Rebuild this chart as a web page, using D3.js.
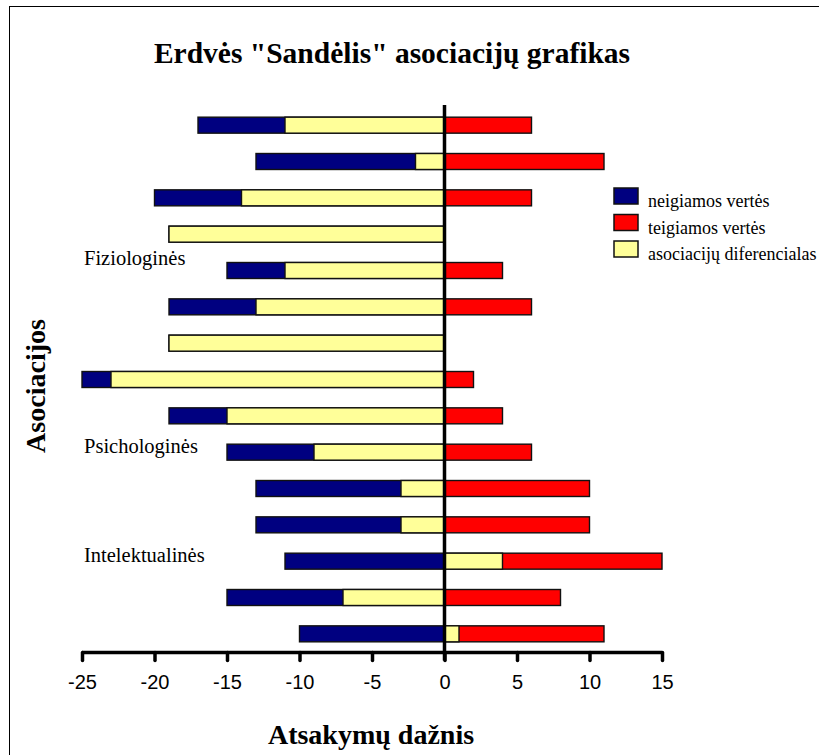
<!DOCTYPE html>
<html>
<head>
<meta charset="utf-8">
<script src="https://cdn.jsdelivr.net/npm/d3@7"></script>
<style>
  html, body { margin: 0; padding: 0; background: #fff; }
  svg { display: block; }
</style>
</head>
<body>
<svg id="chart" width="819" height="755"></svg>
<script>
// ---- data ----
const rows = ["1","2","3","4","5","6","7","8","9","10","11","12","13","14","15"];
const negativeValues = [-17, -13, -20, -19, -15, -19, -19, -25, -19, -15, -13, -13, -11, -15, -10];
const positiveValues = [6, 11, 6, 0, 4, 6, 0, 2, 4, 6, 10, 10, 15, 8, 11];
const differentialValues = [-11, -2, -14, -19, -11, -13, -19, -23, -15, -9, -3, -3, 4, -7, 1];
const xTicks = [-25, -20, -15, -10, -5, 0, 5, 10, 15];
const groupLabels = ["Fiziologinės", "Psichologinės", "Intelektualinės"];
const groupRows = ["5", "10", "13"];
const seriesNames = ["neigiamos vertės", "teigiamos vertės", "asociacijų diferencialas"];
const seriesColors = ["#000080", "#FF0000", "#FFFF99"];
const title = 'Erdvės "Sandėlis" asociacijų grafikas';
const xTitle = "Atsakymų dažnis";
const yTitle = "Asociacijos";

// ---- drawing ----
const svg = d3.select("#chart");
const serif = "'Liberation Serif', 'Times New Roman', serif";
const sans = "'Liberation Sans', Arial, sans-serif";

// frame
svg.append("rect").attr("x", 9.5).attr("y", 6.5).attr("width", 830).attr("height", 780)
  .attr("fill", "none").attr("stroke", "#000").attr("stroke-width", 1);

const x = d3.scaleLinear().domain([-25, 15]).range([82, 662]);
const y = d3.scaleBand().domain(rows).range([107, 652]).paddingInner(0.56).paddingOuter(0.28);
const bh = y.bandwidth();

const stroke = "#111";
const sw = 1.4;

// negative bars
svg.append("g").selectAll("rect").data(rows).join("rect")
  .attr("x", (d, i) => x(negativeValues[i]))
  .attr("y", d => y(d))
  .attr("width", (d, i) => x(0) - x(negativeValues[i]))
  .attr("height", bh)
  .attr("fill", seriesColors[0]).attr("stroke", stroke).attr("stroke-width", sw)
  .attr("display", (d, i) => negativeValues[i] === 0 ? "none" : null);

// positive bars
svg.append("g").selectAll("rect").data(rows).join("rect")
  .attr("x", x(0))
  .attr("y", d => y(d))
  .attr("width", (d, i) => x(positiveValues[i]) - x(0))
  .attr("height", bh)
  .attr("fill", seriesColors[1]).attr("stroke", stroke).attr("stroke-width", sw)
  .attr("display", (d, i) => positiveValues[i] === 0 ? "none" : null);

// differential bars
svg.append("g").selectAll("rect").data(rows).join("rect")
  .attr("x", (d, i) => Math.min(x(0), x(differentialValues[i])))
  .attr("y", d => y(d))
  .attr("width", (d, i) => Math.abs(x(differentialValues[i]) - x(0)))
  .attr("height", bh)
  .attr("fill", seriesColors[2]).attr("stroke", stroke).attr("stroke-width", sw);

// x axis
const axisY = 652.5;
const xAxis = d3.axisBottom(x).tickValues(xTicks).tickSize(8).tickPadding(14).tickFormat(d3.format("d"));
const gx = svg.append("g").attr("transform", `translate(0,${axisY})`).call(xAxis);
gx.select(".domain").attr("stroke", "#000").attr("stroke-width", 3.5)
  .attr("d", `M${x(-25)},0H${x(15)}`);
gx.selectAll(".tick line").attr("stroke", "#000").attr("stroke-width", 3.5).attr("stroke-linecap", "round");
gx.selectAll(".tick text").attr("font-family", sans).attr("font-size", 20).attr("fill", "#000")
  .text(d => d < 0 ? "-" + Math.abs(d) : d);

// zero line
svg.append("line").attr("x1", x(0)).attr("x2", x(0)).attr("y1", 105).attr("y2", axisY + 8)
  .attr("stroke", "#000").attr("stroke-width", 3.5);

// group labels
svg.append("g").selectAll("text").data(groupLabels).join("text")
  .attr("x", 84)
  .attr("y", (d, i) => y(groupRows[i]) + bh / 2 + (i === 0 ? -6 : 1))
  .attr("font-family", serif).attr("font-size", 20.5).attr("fill", "#000")
  .text(d => d);

// title
svg.append("text").attr("x", 392).attr("y", 63).attr("text-anchor", "middle")
  .attr("font-family", serif).attr("font-weight", "bold").attr("font-size", 29.5).attr("fill", "#000")
  .text(title);

// x title
svg.append("text").attr("x", 371).attr("y", 744).attr("text-anchor", "middle")
  .attr("font-family", serif).attr("font-weight", "bold").attr("font-size", 28).attr("fill", "#000")
  .text(xTitle);

// y title
svg.append("text").attr("transform", "translate(45,386) rotate(-90)").attr("text-anchor", "middle")
  .attr("font-family", serif).attr("font-weight", "bold").attr("font-size", 28).attr("fill", "#000")
  .text(yTitle);

// legend
const legend = svg.append("g").attr("transform", "translate(614,188)");
const li = legend.selectAll("g").data(seriesNames).join("g")
  .attr("transform", (d, i) => `translate(0,${i * 26.5})`);
li.append("rect").attr("width", 24).attr("height", 16)
  .attr("fill", (d, i) => seriesColors[i]).attr("stroke", stroke).attr("stroke-width", 1.5);
li.append("text").attr("x", 34).attr("y", 19)
  .attr("font-family", serif).attr("font-size", 18).attr("fill", "#000")
  .text(d => d);
</script>
</body>
</html>
